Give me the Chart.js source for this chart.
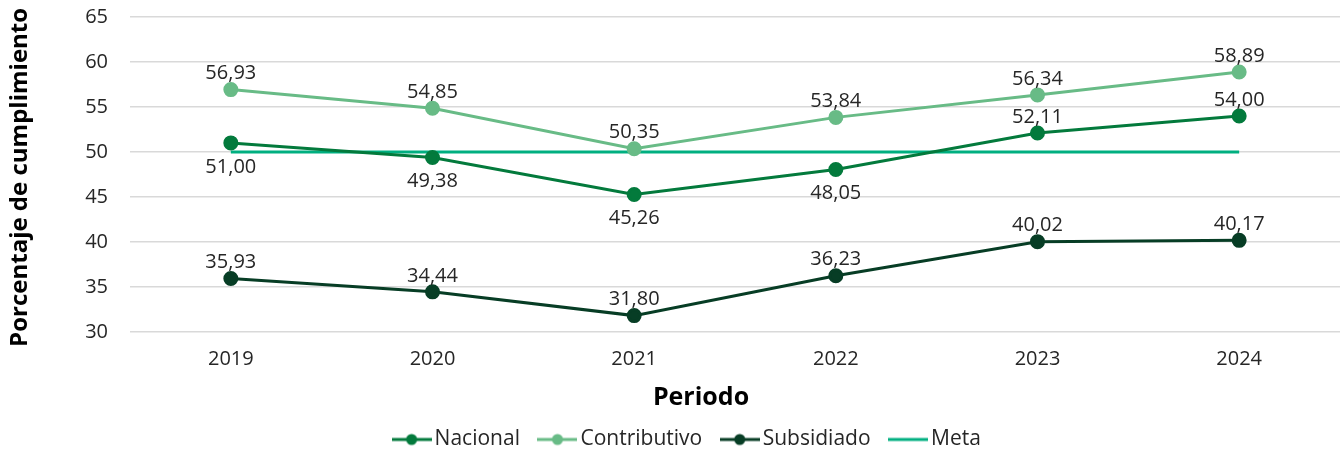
<!DOCTYPE html>
<html>
<head>
<meta charset="utf-8">
<script src="https://cdn.jsdelivr.net/npm/chart.js@4"></script>
<style>
  body { margin: 0; background: #fff; }
  #wrap { width: 1340px; height: 450px; }
</style>
</head>
<body>
<div id="wrap"><canvas id="chart"></canvas></div>
<script>
const years = ['2019', '2020', '2021', '2022', '2023', '2024']
const nacional = [51.00, 49.38, 45.26, 48.05, 52.11, 54.00]
const contributivo = [56.93, 54.85, 50.35, 53.84, 56.34, 58.89]
const subsidiado = [35.93, 34.44, 31.80, 36.23, 40.02, 40.17]
const meta = [50, 50, 50, 50, 50, 50]
// where each label goes: 1 above, -1 below
const nacionalPos = [-1, -1, -1, -1, 1, 1]

const FONT = '"Open Sans", Lato, sans-serif'
const xTitle = 'Periodo'
const yTitle = 'Porcentaje de cumplimiento'

function legendIcon(color, dot) {
    const cv = document.createElement('canvas')
    cv.width = 40; cv.height = 14
    const g = cv.getContext('2d')
    g.strokeStyle = color
    g.lineWidth = 3
    g.beginPath(); g.moveTo(0, 7); g.lineTo(40, 7); g.stroke()
    if (dot) {
        g.fillStyle = color
        g.beginPath(); g.arc(20, 7, 5.5, 0, Math.PI * 2); g.fill()
    }
    return cv
}

const labelPlugin = {
    id: 'valueLabels',
    afterDatasetsDraw(chart) {
        const ctx = chart.ctx
        ctx.save()
        ctx.font = '20px ' + FONT
        ctx.fillStyle = '#262626'
        ctx.textAlign = 'center'
        ctx.textBaseline = 'middle'
        chart.data.datasets.forEach((ds, i) => {
            if (!ds.labelPos) return
            const meta = chart.getDatasetMeta(i)
            meta.data.forEach((pt, j) => {
                const up = ds.labelPos[j] > 0
                const txt = ds.data[j].toFixed(2).replace('.', ',')
                ctx.fillText(txt, pt.x, up ? pt.y - 16 : pt.y + 24)
            })
        })
        ctx.restore()
    }
}

// axis titles are drawn here so they can sit where the original has them
const titlePlugin = {
    id: 'axisTitles',
    afterDraw(chart) {
        const ctx = chart.ctx
        const area = chart.chartArea
        const xs = chart.scales.x
        ctx.save()
        ctx.fillStyle = '#000'
        ctx.textAlign = 'center'
        ctx.textBaseline = 'middle'
        ctx.font = 'bold 25px ' + FONT
        ctx.fillText(xTitle, (area.left + area.right) / 2 - 34, xs.top + 66)
        ctx.translate(20, (area.top + area.bottom) / 2 + 3)
        ctx.rotate(-Math.PI / 2)
        ctx.font = 'bold 24px ' + FONT
        ctx.fillText(yTitle, 0, 0)
        ctx.restore()
    }
}

const ctx = document.getElementById('chart').getContext('2d')
new Chart(ctx, {
    type: 'line',
    data: {
        labels: years,
        datasets: [
            {
                label: 'Nacional', data: nacional, borderColor: '#037a3c', backgroundColor: '#037a3c',
                borderWidth: 3, pointRadius: 6, pointHoverRadius: 6, labelPos: nacionalPos,
                legendIcon: legendIcon('#037a3c', true)
            },
            {
                label: 'Contributivo', data: contributivo, borderColor: '#68bb86', backgroundColor: '#68bb86',
                borderWidth: 3, pointRadius: 6, pointHoverRadius: 6, labelPos: [1, 1, 1, 1, 1, 1],
                legendIcon: legendIcon('#68bb86', true)
            },
            {
                label: 'Subsidiado', data: subsidiado, borderColor: '#073d25', backgroundColor: '#073d25',
                borderWidth: 3, pointRadius: 6, pointHoverRadius: 6, labelPos: [1, 1, 1, 1, 1, 1],
                legendIcon: legendIcon('#073d25', true)
            },
            {
                label: 'Meta', data: meta, borderColor: '#00af80', backgroundColor: '#00af80',
                borderWidth: 3, pointRadius: 0, pointHoverRadius: 0,
                legendIcon: legendIcon('#00af80', false)
            }
        ]
    },
    options: {
        responsive: true,
        maintainAspectRatio: false,
        animation: false,
        layout: { autoPadding: false, padding: { left: 40, right: 0, top: 17, bottom: -10 } },
        scales: {
            x: {
                offset: true,
                grid: { display: false },
                border: { display: false },
                ticks: { color: '#262626', font: { family: FONT, size: 20 }, padding: 7 },
                // empty text: keeps the room, real title drawn by titlePlugin
                title: { display: true, text: '', font: { family: FONT, size: 21, weight: 'bold' }, padding: { top: 1, bottom: 0 } }
            },
            y: {
                min: 30, max: 65,
                ticks: { stepSize: 5, color: '#262626', font: { family: FONT, size: 20 }, padding: 22 },
                grid: { color: '#d9d9d9', lineWidth: 1.5, drawTicks: false },
                border: { display: false },
                afterFit(scale) {
                    scale.width = 90
                    scale.paddingTop = 0
                    scale.paddingBottom = 0
                }
            }
        },
        plugins: {
            tooltip: { enabled: false },
            legend: {
                position: 'bottom',
                labels: {
                    color: '#262626',
                    font: { family: FONT, size: 21 },
                    usePointStyle: true,
                    pointStyleWidth: 25,
                    boxHeight: 14,
                    padding: 25,
                    generateLabels(chart) {
                        return chart.data.datasets.map((ds, i) => ({
                            text: ds.label,
                            pointStyle: ds.legendIcon,
                            fillStyle: ds.borderColor,
                            strokeStyle: ds.borderColor,
                            fontColor: '#262626',
                            lineWidth: 0,
                            datasetIndex: i,
                            hidden: false
                        }))
                    }
                }
            }
        }
    },
    plugins: [labelPlugin, titlePlugin]
})
</script>
</body>
</html>
